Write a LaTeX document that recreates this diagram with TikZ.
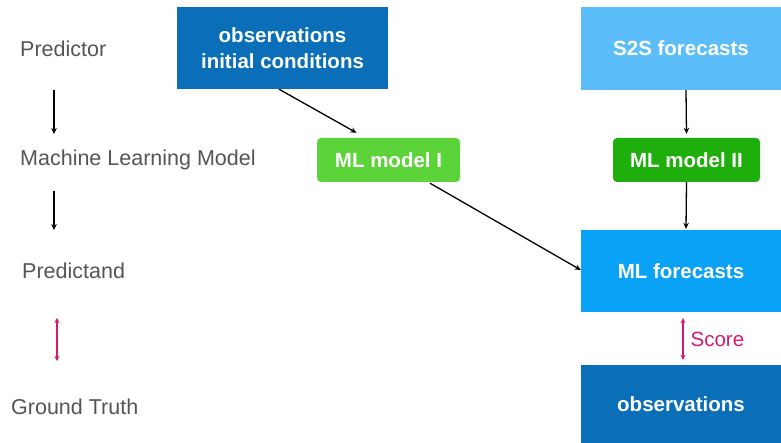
\documentclass[tikz,border=0pt]{standalone}
\usepackage{fontspec}
\setmainfont{Liberation Sans}
\usetikzlibrary{arrows.meta}
\definecolor{obsdark}{HTML}{0A6FB8}
\definecolor{skyblue}{HTML}{5BBEFB}
\definecolor{mlblue}{HTML}{0AA2F6}
\definecolor{greenI}{HTML}{5DD33A}
\definecolor{greenII}{HTML}{1FAF0D}
\definecolor{labelgrey}{HTML}{555555}
\definecolor{scorepink}{HTML}{D61A72}
\tikzset{
  box/.style={rectangle, draw=none, text=white, font=\fontsize{20.5}{24}\selectfont\bfseries, align=center, inner sep=0pt},
  rowlabel/.style={text=labelgrey, font=\fontsize{21.5}{25}\selectfont, anchor=west, inner sep=0pt},
  flow/.style={-{Stealth[length=6pt,width=5.5pt]}, line width=1.3pt, black},
  score/.style={{Stealth[length=5pt,width=5pt]}-{Stealth[length=5pt,width=5pt]}, line width=1.3pt, scorepink},
}
\begin{document}
\begin{tikzpicture}[x=1pt,y=-1pt]
\useasboundingbox[fill=white] (0,0) rectangle (781,443);

% row labels on the left
\node[rowlabel] (lpred) at (20,49) {Predictor};
\node[rowlabel] (lml) at (20,160) {Machine Learning Model};
\node[rowlabel] (lpdand) at (22,271) {Predictand};
\node[rowlabel] (ltruth) at (11,407) {Ground Truth};

\coordinate (a1s) at (54,90);  \coordinate (a1e) at (54,134);
\coordinate (a2s) at (54,191); \coordinate (a2e) at (54,230);
\coordinate (p1s) at (57,318); \coordinate (p1e) at (57,361);
\draw[flow] (a1s) -- (a1e);
\draw[flow] (a2s) -- (a2e);
\draw[score] (p1s) -- (p1e);

% boxes
\node[box, fill=obsdark, minimum width=211pt, minimum height=82pt] (obs) at (282.5,48) {observations\\[1.5pt]initial conditions};
\node[box, fill=skyblue, minimum width=200pt, minimum height=83pt] (s2s) at (681,48.5) {S2S forecasts};
\node[box, fill=greenI, rounded corners=4pt, minimum width=143pt, minimum height=44pt] (mlI) at (388.5,160) {ML model I};
\node[box, fill=greenII, rounded corners=4pt, minimum width=147pt, minimum height=44pt] (mlII) at (686.5,160) {ML model II};
\node[box, fill=mlblue, minimum width=200pt, minimum height=82pt] (mlf) at (681,271) {ML forecasts};
\node[box, fill=obsdark, minimum width=200pt, minimum height=78pt] (truth) at (681,404) {observations};

% connectors
\draw[flow] ([xshift=-3.5pt]obs.south) -- ([xshift=-32pt,yshift=5pt]mlI.north);
\draw[flow] ([xshift=41.5pt,yshift=-1pt]mlI.south) -- ([yshift=1pt]mlf.west);
\draw[flow] ([xshift=5pt]s2s.south) -- ([yshift=4pt]mlII.north);
\draw[flow] (mlII.south) -- ([xshift=5pt,yshift=1pt]mlf.north);
\draw[score] ([xshift=2pt,yshift=-6pt]mlf.south) -- node[right=7pt, text=scorepink, font=\fontsize{20.5}{24}\selectfont, inner sep=0pt] (sc) {Score} ([xshift=2pt,yshift=5pt]truth.north);
\end{tikzpicture}
\end{document}
